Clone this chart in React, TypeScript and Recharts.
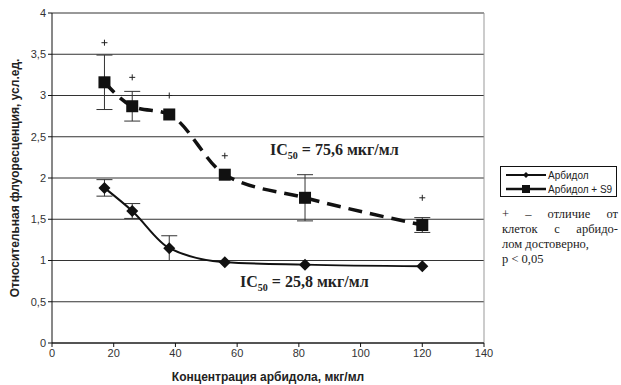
import React from "react";
import {
  ComposedChart,
  Line,
  Scatter,
  XAxis,
  YAxis,
  CartesianGrid,
  ErrorBar,
  ReferenceLine,
} from "recharts";

const conc = [17, 26, 38, 56, 82, 120];
const arbidol = [1.88, 1.6, 1.15, 0.98, 0.95, 0.93];
const arbidolErr = [0.1, 0.09, 0.15, 0, 0, 0];
const arbidolS9 = [3.16, 2.87, 2.77, 2.04, 1.76, 1.43];
const arbidolS9Err = [0.33, 0.18, 0, 0, 0.28, 0.09];
const plusX = [17, 26, 38, 56, 120];
const plusY = [3.64, 3.22, 3.0, 2.27, 1.76];
const xTicks = [0, 20, 40, 60, 80, 100, 120, 140];
const yTicks = [0, 0.5, 1, 1.5, 2, 2.5, 3, 3.5, 4];

const data = conc.map((x, i) => ({
  x,
  a: arbidol[i],
  aErr: arbidolErr[i] || null,
  s: arbidolS9[i],
  sErr: arbidolS9Err[i] || null,
}));
const plusData = plusX.map((x, i) => ({ x, y: plusY[i] }));

const Diamond = (props: any) => {
  const { cx, cy } = props;
  if (cx == null || cy == null) return null;
  return <path d={`M${cx},${cy - 6}L${cx + 6},${cy}L${cx},${cy + 6}L${cx - 6},${cy}Z`} fill="#111" />;
};
const Square = (props: any) => {
  const { cx, cy } = props;
  if (cx == null || cy == null) return null;
  return <rect x={cx - 6} y={cy - 6} width={12} height={12} fill="#111" />;
};
const Plus = (props: any) => {
  const { cx, cy } = props;
  return (
    <g stroke="#222" strokeWidth={1}>
      <line x1={cx - 3} x2={cx + 3} y1={cy} y2={cy} />
      <line x1={cx} x2={cx} y1={cy - 3} y2={cy + 3} />
    </g>
  );
};

const fmt = (v: number) => String(v).replace(".", ",");

export default function App() {
  return (
    <div style={{ position: "fixed", left: 0, top: 0, width: 621, height: 385, background: "#fff" }}>
      <ComposedChart
        width={621}
        height={385}
        data={data}
        margin={{ top: 13, right: 137, bottom: 12, left: 20 }}
      >
        <CartesianGrid vertical={false} stroke="#333" strokeWidth={1} />
        <XAxis
          type="number"
          dataKey="x"
          domain={[0, 140]}
          ticks={xTicks}
          stroke="#111"
          tickSize={4}
          tick={{ fontSize: 11, fill: "#333", fontFamily: "Liberation Sans" }}
        />
        <YAxis
          type="number"
          domain={[0, 4]}
          ticks={yTicks}
          width={32}
          stroke="#111"
          tickSize={4}
          tickFormatter={fmt}
          tick={{ fontSize: 11, fill: "#333", fontFamily: "Liberation Sans" }}
        />
        <ReferenceLine x={140} stroke="#999" />
        <Line
          type="monotone"
          dataKey="s"
          stroke="#111"
          strokeWidth={3.5}
          strokeDasharray="14 8"
          dot={<Square />}
          activeDot={false}
          isAnimationActive={false}
        >
          <ErrorBar dataKey="sErr" width={8} stroke="#333" strokeWidth={1} direction="y" />
        </Line>
        <Line
          type="monotone"
          dataKey="a"
          stroke="#111"
          strokeWidth={2}
          dot={<Diamond />}
          activeDot={false}
          isAnimationActive={false}
        >
          <ErrorBar dataKey="aErr" width={8} stroke="#333" strokeWidth={1} direction="y" />
        </Line>
        <Scatter data={plusData} dataKey="y" fill="#222" shape={<Plus />} isAnimationActive={false} />
      </ComposedChart>

      <div
        style={{
          position: "absolute",
          left: 15,
          top: 178,
          transform: "translate(-50%, -50%) rotate(-90deg)",
          whiteSpace: "nowrap",
          fontFamily: "Liberation Sans",
          fontWeight: "bold",
          fontSize: 12,
          color: "#222",
        }}
      >
        Относительная флуоресценция, усл.ед.
      </div>
      <div
        style={{
          position: "absolute",
          left: 268,
          top: 370,
          transform: "translateX(-50%)",
          whiteSpace: "nowrap",
          fontFamily: "Liberation Sans",
          fontWeight: "bold",
          fontSize: 12,
          color: "#222",
        }}
      >
        Концентрация арбидола, мкг/мл
      </div>
      <div style={{ position: "absolute", left: 270, top: 141, fontFamily: "Liberation Serif", fontWeight: "bold", fontSize: 16, color: "#222", whiteSpace: "nowrap" }}>
        IC<sub style={{ fontSize: 10 }}>50</sub> = 75,6 мкг/мл
      </div>
      <div style={{ position: "absolute", left: 240, top: 273, fontFamily: "Liberation Serif", fontWeight: "bold", fontSize: 16, color: "#222", whiteSpace: "nowrap" }}>
        IC<sub style={{ fontSize: 10 }}>50</sub> = 25,8 мкг/мл
      </div>

      <div
        style={{
          position: "absolute",
          left: 500,
          top: 166,
          width: 117,
          height: 31,
          border: "1px solid #111",
          boxSizing: "border-box",
          fontFamily: "Liberation Sans",
          fontSize: 10,
          color: "#222",
        }}
      >
        <svg width={117} height={31} style={{ position: "absolute", left: 0, top: 0 }}>
          <line x1={5} x2={45} y1={8} y2={8} stroke="#111" strokeWidth={2} />
          <path d="M25,5L28,8L25,11L22,8Z" fill="#111" />
          <line x1={5} x2={45} y1={22} y2={22} stroke="#111" strokeWidth={2.5} />
          <rect x={21} y={18} width={8} height={8} fill="#111" />
          <text x={47} y={12} fontSize={10} fill="#222">Арбидол</text>
          <text x={47} y={26} fontSize={10} fill="#222">Арбидол + S9</text>
        </svg>
      </div>

      <div
        style={{
          position: "absolute",
          left: 502,
          top: 207,
          width: 116,
          fontFamily: "Liberation Serif",
          fontSize: 12.5,
          lineHeight: "15px",
          color: "#222",
        }}
      >
        <div style={{ display: "flex", justifyContent: "space-between" }}>
          <span>+</span><span>–</span><span>отличие</span><span>от</span>
        </div>
        <div style={{ display: "flex", justifyContent: "space-between" }}>
          <span>клеток</span><span>с</span><span>арбидо-</span>
        </div>
        <div>лом достоверно,</div>
        <div>p &lt; 0,05</div>
      </div>
    </div>
  );
}
